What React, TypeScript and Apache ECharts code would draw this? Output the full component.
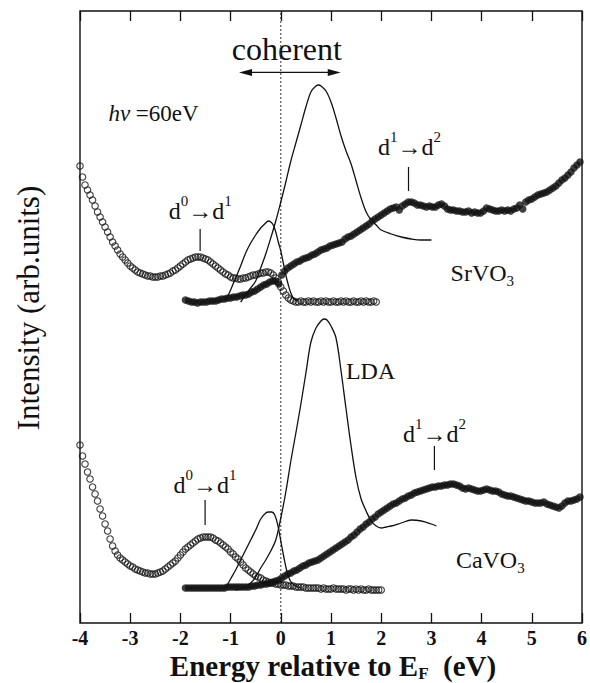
import React, { useEffect, useRef } from 'react';
import * as echarts from 'echarts';

// ---------- data (intensity in arbitrary units; x = energy relative to E_F, eV) ----------
const xTicks = [-4, -3, -2, -1, 0, 1, 2, 3, 4, 5, 6];

const OPEN_START = -4.0;
const OPEN_STEP = 0.05;
const FILLED_START = -1.9;
const FILLED_STEP = 0.06;

// SrVO3 photoemission (open circles), E = -4.00 .. 1.90 step 0.05
const srOpen = [
  457, 446, 438, 433, 428, 423, 417, 411, 406, 401,
  396, 391, 386, 381, 377, 373, 369, 366, 363, 360,
  357, 355, 353, 351, 350, 349, 348, 347, 347, 346,
  346, 346, 347, 347, 348, 349, 350, 352, 353, 355,
  357, 359, 361, 363, 364, 365, 366, 366, 366, 365,
  364, 363, 361, 359, 357, 355, 353, 351, 349, 348,
  346, 345, 345, 344, 344, 345, 345, 346, 347, 348,
  348, 349, 350, 350, 351, 351, 350, 348, 345, 341,
  336, 332, 328, 325, 323, 322, 321, 321, 322, 321,
  321, 322, 321, 322, 321, 321, 322, 321, 322, 321,
  321, 322, 321, 321, 322, 321, 322, 321, 321, 322,
  321, 321, 322, 321, 322, 321, 321, 322, 321,
];

// SrVO3 BIS (filled circles), E = -1.90 .. 5.96 step 0.06
const srFilled = [
  323, 322, 321, 321, 320, 321, 321, 321, 322, 322,
  322, 323, 324, 324, 325, 325, 326, 326, 327, 328,
  328, 329, 331, 332, 334, 336, 338, 339, 341, 342,
  342, 339, 348, 352, 355, 357, 359, 361, 362, 364,
  365, 366, 368, 369, 371, 373, 374, 375, 377, 378,
  379, 380, 381, 384, 386, 387, 389, 391, 393, 395,
  397, 399, 402, 404, 406, 408, 410, 412, 414, 415,
  416, 413, 417, 419, 421, 421, 420, 418, 418, 417,
  416, 417, 416, 416, 418, 419, 417, 414, 413, 413,
  412, 412, 411, 411, 412, 410, 411, 410, 410, 412,
  415, 414, 413, 412, 412, 413, 412, 413, 412, 414,
  415, 418, 414, 421, 423, 424, 426, 428, 429, 430,
  431, 433, 435, 437, 440, 443, 445, 448, 451, 455,
  458, 461,
];

// SrVO3 LDA curves
const srLdaSmallE = [-1.1, -1.0, -0.9, -0.8, -0.7, -0.6, -0.5, -0.4, -0.3, -0.25, -0.2, -0.15, -0.1, -0.05, 0, 0.05, 0.1, 0.15, 0.2, 0.25, 0.3, 0.35];
const srLdaSmall = [322, 333, 345, 357, 370, 380, 388, 395, 400, 402, 401, 398, 391, 381, 372, 360, 348, 338, 330, 325, 323, 322];
const srLdaBigE = [-0.8, -0.7, -0.6, -0.5, -0.4, -0.3, -0.2, -0.1, 0, 0.1, 0.2, 0.3, 0.4, 0.5, 0.6, 0.7, 0.76, 0.8, 0.9, 1.0, 1.1, 1.2, 1.3, 1.4, 1.5, 1.6, 1.7, 1.8, 1.9, 2.0, 2.2, 2.4, 2.6, 2.8, 3.0];
const srLdaBig = [321, 328, 335, 342, 355, 369, 385, 402, 421, 441, 462, 480, 498, 516, 531, 537, 538, 537, 532, 521, 505, 487, 472, 459, 442, 425, 411, 403, 398, 393, 389, 386, 384, 383, 383];

// CaVO3 photoemission (open circles), E = -4.00 .. 2.00 step 0.05
const caOpen = [
  178, 167, 159, 151, 144, 136, 129, 122, 114, 107,
  99, 92, 84, 77, 72, 68, 65, 63, 61, 59,
  57, 56, 54, 53, 52, 51, 50, 50, 49, 49,
  49, 50, 51, 52, 54, 56, 58, 60, 62, 65,
  68, 71, 74, 76, 78, 80, 82, 84, 85, 86,
  86, 86, 86, 85, 83, 82, 80, 78, 76, 74,
  71, 69, 66, 64, 61, 58, 55, 53, 51, 49,
  47, 46, 45, 43, 42, 41, 40, 40, 39, 39,
  38, 38, 38, 37, 37, 37, 36, 36, 36, 36,
  35, 35, 35, 35, 35, 35, 34, 35, 34, 34,
  34, 35, 34, 34, 34, 34, 33, 34, 34, 33,
  34, 33, 34, 33, 33, 34, 33, 33, 33, 33,
  33,
];

// CaVO3 BIS (filled circles), E = -1.90 .. 5.96 step 0.06
const caFilled = [
  35, 35, 35, 35, 35, 35, 35, 35, 35, 35,
  35, 35, 35, 35, 36, 36, 36, 36, 36, 36,
  36, 36, 37, 37, 38, 38, 39, 39, 40, 41,
  42, 43, 45, 47, 49, 50, 52, 53, 55, 57,
  58, 60, 61, 62, 63, 65, 67, 69, 71, 73,
  75, 77, 79, 81, 83, 86, 88, 91, 94, 96,
  99, 101, 104, 106, 109, 111, 113, 115, 117, 119,
  120, 122, 124, 125, 127, 128, 130, 131, 132, 133,
  134, 135, 136, 136, 137, 137, 138, 138, 139, 139,
  138, 137, 135, 134, 135, 134, 133, 132, 132, 133,
  134, 133, 132, 132, 131, 129, 128, 127, 127, 126,
  125, 124, 123, 122, 122, 121, 120, 120, 120, 121,
  119, 118, 117, 116, 115, 117, 120, 122, 122, 123,
  124, 126,
];

// CaVO3 LDA curves
const caLdaSmallE = [-1.1, -1.0, -0.9, -0.8, -0.7, -0.6, -0.5, -0.4, -0.3, -0.24, -0.18, -0.12, -0.06, 0, 0.06, 0.12, 0.18, 0.24, 0.3, 0.4];
const caLdaSmall = [35, 44, 53, 63, 73, 83, 93, 104, 110, 111, 111, 108, 98, 82, 66, 52, 43, 39, 37, 35];
const caLdaBigE = [-0.9, -0.8, -0.7, -0.6, -0.5, -0.4, -0.3, -0.2, -0.1, 0, 0.1, 0.2, 0.3, 0.4, 0.5, 0.6, 0.7, 0.8, 0.86, 0.92, 1.0, 1.1, 1.2, 1.3, 1.4, 1.5, 1.6, 1.7, 1.8, 1.9, 2.0, 2.1, 2.2, 2.4, 2.6, 2.8, 3.0, 3.1];
const caLdaBig = [33, 34, 36, 40, 46, 55, 63, 72, 83, 105, 131, 162, 190, 219, 250, 281, 295, 302, 304, 303, 297, 285, 252, 214, 177, 145, 124, 112, 102, 97, 95, 96, 97, 100, 103, 102, 99, 97];

// ---------- helpers ----------
const FONT = 'Liberation Serif';
const INK = '#111';
const Y_MAX = 612;

const grid = (start: number, step: number, vals: number[]) =>
  vals.map((v, i) => [+(start + i * step).toFixed(3), v]);
const pairs = (xs: number[], ys: number[]) => xs.map((x, i) => [x, ys[i]]);

const openStyle = {
  type: 'scatter' as const,
  symbol: 'circle',
  symbolSize: 6.5,
  itemStyle: { color: 'rgba(255,255,255,0)', borderColor: INK, borderWidth: 1.1 },
  z: 4,
  silent: true,
};
const filledStyle = {
  type: 'scatter' as const,
  symbol: 'circle',
  symbolSize: 7.5,
  itemStyle: { color: INK },
  z: 3,
  silent: true,
};
const ldaStyle = {
  type: 'line' as const,
  smooth: 0.35,
  showSymbol: false,
  symbol: 'none',
  lineStyle: { color: INK, width: 1.3 },
  z: 2,
  silent: true,
};

const richBase = {
  m: { fontSize: 24, fontFamily: FONT, lineHeight: 30, verticalAlign: 'bottom', fill: INK, color: INK },
  u: { fontSize: 15, fontFamily: FONT, lineHeight: 16, verticalAlign: 'top', fill: INK, color: INK },
  s: { fontSize: 15, fontFamily: FONT, lineHeight: 16, verticalAlign: 'top', padding: [18, 0, 0, 0], fill: INK, color: INK },
};

export default function App() {
  const ref = useRef<HTMLDivElement>(null);

  useEffect(() => {
    const chart = echarts.init(ref.current!, null, { renderer: 'svg' });

    const xAxisCommon = {
      type: 'value' as const,
      min: -4,
      max: 6,
      interval: 1,
      splitLine: { show: false },
      axisLine: { show: false },
      axisTick: { show: true, inside: true, length: 10, lineStyle: { color: INK, width: 1.3 } },
    };

    chart.setOption({
      animation: false,
      backgroundColor: '#fff',
      grid: {
        left: 80,
        right: 6,
        top: 11,
        bottom: 60,
        show: true,
        borderColor: INK,
        borderWidth: 1.4,
        backgroundColor: 'transparent',
      },
      xAxis: [
        {
          ...xAxisCommon,
          position: 'bottom',
          axisLabel: {
            show: true,
            margin: 5,
            fontFamily: FONT,
            fontWeight: 'bold',
            fontSize: 20,
            color: INK,
            showMinLabel: true,
            showMaxLabel: true,
            formatter: (v: number) => (xTicks.includes(v) ? String(v) : ''),
          },
        },
        {
          ...xAxisCommon,
          position: 'top',
          axisLabel: { show: false },
        },
      ],
      yAxis: {
        type: 'value',
        min: 0,
        max: Y_MAX,
        axisLine: { show: false },
        axisTick: { show: false },
        axisLabel: { show: false },
        splitLine: { show: false },
      },
      series: [
        {
          type: 'line',
          data: [[0, 0], [0, Y_MAX]],
          showSymbol: false,
          symbol: 'none',
          lineStyle: { color: '#333', width: 1, type: [2, 2] },
          z: 1,
          silent: true,
        },
        { ...ldaStyle, name: 'SrVO3 LDA a', data: pairs(srLdaSmallE, srLdaSmall) },
        { ...ldaStyle, name: 'SrVO3 LDA b', data: pairs(srLdaBigE, srLdaBig) },
        { ...ldaStyle, name: 'CaVO3 LDA a', data: pairs(caLdaSmallE, caLdaSmall) },
        { ...ldaStyle, name: 'CaVO3 LDA b', data: pairs(caLdaBigE, caLdaBig) },
        { ...filledStyle, name: 'SrVO3 BIS', data: grid(FILLED_START, FILLED_STEP, srFilled) },
        { ...filledStyle, name: 'CaVO3 BIS', data: grid(FILLED_START, FILLED_STEP, caFilled) },
        { ...openStyle, name: 'SrVO3 PES', data: grid(OPEN_START, OPEN_STEP, srOpen) },
        { ...openStyle, name: 'CaVO3 PES', data: grid(OPEN_START, OPEN_STEP, caOpen) },
      ],
    });

    const P = (e: number, v: number) =>
      chart.convertToPixel({ xAxisIndex: 0, yAxisIndex: 0 }, [e, v]) as number[];

    const txt = (e: number, v: number, text: string, align = 'center', extra: any = {}) => {
      const [x, y] = P(e, v);
      return {
        type: 'text',
        x,
        y,
        silent: true,
        style: {
          text,
          rich: richBase,
          fill: INK,
          font: `24px ${FONT}`,
          align,
          textAlign: align,
          verticalAlign: 'middle',
          textVerticalAlign: 'middle',
          ...extra,
        },
      };
    };
    const vline = (e: number, v1: number, v2: number) => {
      const [x1, y1] = P(e, v1);
      const [x2, y2] = P(e, v2);
      return {
        type: 'line',
        silent: true,
        shape: { x1, y1, x2, y2 },
        style: { stroke: INK, lineWidth: 1.2 },
      };
    };

    const [ax1, ay] = P(-0.832, 550.6);
    const [ax2] = P(1.194, 550.6);
    const head = 13;
    const hw = 3.5;

    const graphic: any[] = [
      // coherent label and double arrow
      {
        type: 'text',
        silent: true,
        x: P(0.121, 574)[0],
        y: P(0.121, 574)[1],
        style: { text: 'coherent', font: `32px ${FONT}`, fill: INK, align: 'center', textAlign: 'center', verticalAlign: 'middle', textVerticalAlign: 'middle' },
      },
      {
        type: 'line',
        silent: true,
        shape: { x1: ax1 + head - 2, y1: ay, x2: ax2 - head + 2, y2: ay },
        style: { stroke: INK, lineWidth: 1.2 },
      },
      {
        type: 'polygon',
        silent: true,
        shape: { points: [[ax1, ay], [ax1 + head, ay - hw], [ax1 + head, ay + hw]] },
        style: { fill: INK },
      },
      {
        type: 'polygon',
        silent: true,
        shape: { points: [[ax2, ay], [ax2 - head, ay - hw], [ax2 - head, ay + hw]] },
        style: { fill: INK },
      },
      // photon energy
      {
        type: 'text',
        silent: true,
        x: P(-3.434, 510)[0],
        y: P(-3.434, 510)[1],
        style: {
          text: '{i|h\u03bd} {n|=60eV}',
          rich: {
            i: { fontSize: 23, fontFamily: FONT, fontStyle: 'italic', fill: INK, color: INK },
            n: { fontSize: 23, fontFamily: FONT, fill: INK, color: INK },
          },
          font: `23px ${FONT}`,
          fill: INK,
          align: 'left',
          textAlign: 'left',
          verticalAlign: 'middle',
          textVerticalAlign: 'middle',
        },
      },
      // SrVO3 annotations
      txt(-1.607, 415, '{m|d}{u|0}{m|\u2192d}{u|1}'),
      vline(-1.607, 394, 372),
      txt(2.564, 479, '{m|d}{u|1}{m|\u2192d}{u|2}'),
      vline(2.544, 456, 432),
      txt(4.014, 353, '{m|SrVO}{s|3}'),
      // CaVO3 annotations
      txt(1.789, 255, '{m|LDA}'),
      txt(3.06, 192, '{m|d}{u|1}{m|\u2192d}{u|2}'),
      vline(3.06, 177, 153),
      txt(-1.508, 141, '{m|d}{u|0}{m|\u2192d}{u|1}'),
      vline(-1.508, 123, 98),
      txt(4.173, 66, '{m|CaVO}{s|3}'),
      // axis titles
      {
        type: 'text',
        silent: true,
        x: 333,
        y: 665.5,
        style: {
          text: '{b|Energy relative to E}{f|F}{b|  (eV)}',
          rich: {
            b: { fontSize: 29, fontFamily: FONT, fontWeight: 'bold', lineHeight: 30, verticalAlign: 'bottom', fill: INK, color: INK },
            f: { fontSize: 17, fontFamily: FONT, fontWeight: 'bold', lineHeight: 17, verticalAlign: 'top', padding: [14, 0, 0, 0], fill: INK, color: INK },
          },
          fill: INK,
          align: 'center',
          textAlign: 'center',
          verticalAlign: 'middle',
          textVerticalAlign: 'middle',
        },
      },
      {
        type: 'text',
        silent: true,
        x: 28,
        y: 308,
        rotation: Math.PI / 2,
        style: {
          text: 'Intensity (arb.units)',
          font: `31px ${FONT}`,
          fill: INK,
          align: 'center',
          textAlign: 'center',
          verticalAlign: 'middle',
          textVerticalAlign: 'middle',
        },
      },
    ];

    chart.setOption({ graphic });

    return () => chart.dispose();
  }, []);

  return (
    <div
      ref={ref}
      style={{ position: 'fixed', left: 0, top: 0, width: 590, height: 683, background: '#fff' }}
    />
  );
}
